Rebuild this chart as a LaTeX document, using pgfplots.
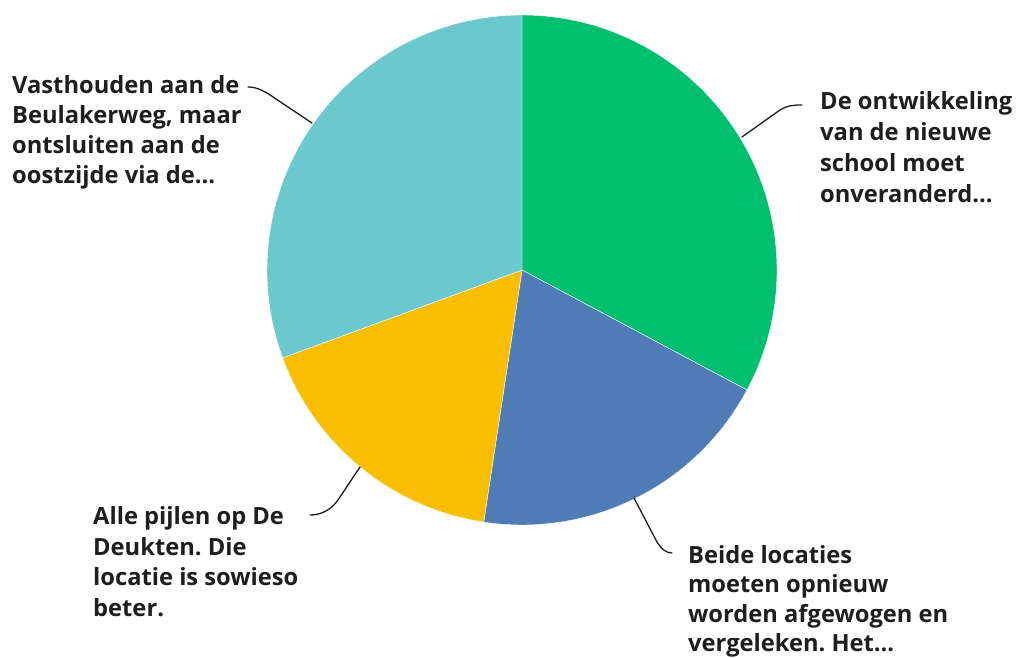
\documentclass[border=0pt]{standalone}
\usepackage{pgfplots}
\pgfplotsset{compat=1.18}
\usepgfplotslibrary{polar}
\usepackage{fontspec}
\setmainfont{Open Sans}
\frenchspacing
\definecolor{smgreen}{HTML}{00BF6F}
\definecolor{smblue}{HTML}{507CB6}
\definecolor{smyellow}{HTML}{F9BE00}
\definecolor{smteal}{HTML}{6BC8CD}
\definecolor{labelc}{HTML}{1E1E1E}
% slice shares in percent (clockwise from the top)
\def\pA{32.8}% De ontwikkeling van de nieuwe school moet onveranderd...
\def\pB{19.6}% Beide locaties moeten opnieuw worden afgewogen en vergeleken. Het...
\def\pC{17.0}% Alle pijlen op De Deukten. Die locatie is sowieso beter.
\def\pD{30.6}% Vasthouden aan de Beulakerweg, maar ontsluiten aan de oostzijde via de...
\begin{document}
\begin{tikzpicture}[x=1pt,y=1pt]
\path[use as bounding box] (0,0) rectangle (1016,657);
\pgfmathsetmacro\aA{90}
\pgfmathsetmacro\aB{\aA-3.6*\pA}
\pgfmathsetmacro\aC{\aB-3.6*\pB}
\pgfmathsetmacro\aD{\aC-3.6*\pC}
\pgfmathsetmacro\aE{\aD-3.6*\pD}
\begin{polaraxis}[at={(522pt,387pt)}, anchor=center, scale only axis,
  width=510pt, height=510pt, hide axis, xmin=0, xmax=360, ymin=0, ymax=1,
  clip=false]
\addplot[fill=smgreen, draw=white, line width=0.4pt, domain=\aB:\aA, samples=120] {1} -- (axis cs:0,0) -- cycle;
\addplot[fill=smblue, draw=white, line width=0.4pt, domain=\aC:\aB, samples=80] {1} -- (axis cs:0,0) -- cycle;
\addplot[fill=smyellow, draw=white, line width=0.4pt, domain=\aD:\aC, samples=80] {1} -- (axis cs:0,0) -- cycle;
\addplot[fill=smteal, draw=white, line width=0.4pt, domain=\aE:\aD, samples=120] {1} -- (axis cs:0,0) -- cycle;
\end{polaraxis}
% leader lines
\begin{scope}[draw=labelc, line width=1.3pt, line cap=round]
\draw (248,570) .. controls (258,570) and (266,565) .. (276,558) -- (312,534);
\draw (742,520) -- (780,547) .. controls (788,552) and (795,552) .. (802,552);
\draw (360,190) -- (338,157) .. controls (330,146) and (320,142) .. (310,142);
\draw (634,159) -- (657,115) .. controls (662,107) and (667,104) .. (672,104);
\end{scope}
% labels
\begin{scope}[every node/.style={anchor=base west, inner sep=0pt, text=labelc,
  font=\fontsize{23.7}{30}\selectfont\bfseries}]
\node at (12,563) {Vasthouden aan de};
\node at (12,533) {Beulakerweg, maar};
\node at (12,503) {ontsluiten aan de};
\node at (12,473) {oostzijde via de...};
\node at (820,547) {De ontwikkeling};
\node at (820,516) {van de nieuwe};
\node at (820,485) {school moet};
\node at (820,454) {onveranderd...};
\node at (93,132.5) {Alle pijlen op De};
\node at (93,102) {Deukten. Die};
\node at (93,71.5) {locatie is sowieso};
\node at (93,41) {beter.};
\node at (688,94) {Beide locaties};
\node at (688,65) {moeten opnieuw};
\node at (688,35) {worden afgewogen en};
\node at (688,6) {vergeleken. Het...};
\end{scope}
\end{tikzpicture}
\end{document}
